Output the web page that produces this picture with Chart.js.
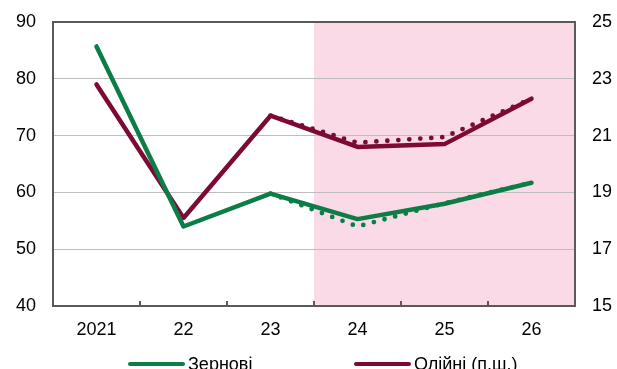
<!DOCTYPE html>
<html>
<head>
<meta charset="utf-8">
<script src="https://cdn.jsdelivr.net/npm/chart.js@4/dist/chart.umd.min.js"></script>
<style>
  html, body { margin: 0; padding: 0; background: #fff; }
  #wrap { position: relative; width: 617px; height: 369px; overflow: hidden; }
  #chart { position: absolute; left: 0; top: 0; }
  .legend { position: absolute; top: 352px; left: 0; width: 617px; height: 24px;
            font-family: "Liberation Sans", Arial, sans-serif; font-size: 18px; color: #000; }
  .item { position: absolute; top: 0; display: flex; align-items: center; height: 24px; }
  .swatch { width: 57px; height: 4px; border-radius: 2px; margin-right: 3px; }
</style>
</head>
<body>
<div id="wrap">
  <canvas id="chart" width="617" height="369"></canvas>
  <div class="legend">
    <div class="item" style="left:128px"><span class="swatch" style="background:#0c7d46"></span><span>Зернові</span></div>
    <div class="item" style="left:354px"><span class="swatch" style="background:#7c0a35"></span><span>Олійні (п.ш.)</span></div>
  </div>
</div>
<script>
// Marketing years
const years = ['2021', '22', '23', '24', '25', '26'];

// Grain crops, left axis
const grain = [85.7, 54.0, 59.8, 55.3, 58.0, 61.7];
// Grain crops, previous forecast (dotted)
const grainPrev = [null, null, 59.8, 54.0, 58.1, 61.7];

// Oil crops, right axis
const oil = [22.8, 18.1, 21.7, 20.6, 20.7, 22.3];
// Oil crops, previous forecast (dotted)
const oilPrev = [null, null, 21.7, 20.75, 20.95, 22.3];

// Axis ticks
const leftTicks = [40, 50, 60, 70, 80, 90];
const rightTicks = [15, 17, 19, 21, 23, 25];

// First forecast year: shaded from here to the right edge
const forecastFrom = '24';

const GREEN = '#0c7d46';
const RED = '#7c0a35';
const FRAME = '#5a5a5a';
const FONT = { family: '"Liberation Sans", Arial, sans-serif', size: 18 };

const shadePlugin = {
  id: 'forecastShade',
  beforeDraw(chart) {
    const { ctx, chartArea: a, scales: { x } } = chart;
    const i = years.indexOf(forecastFrom);
    const left = (x.getPixelForValue(i - 1) + x.getPixelForValue(i)) / 2;
    ctx.save();
    ctx.fillStyle = '#fadae6';
    ctx.fillRect(left, a.top, a.right - left, a.bottom - a.top);
    ctx.restore();
  }
};

const framePlugin = {
  id: 'frame',
  afterDatasetsDraw(chart) {
    const { ctx, chartArea: a, scales: { x } } = chart;
    ctx.save();
    ctx.strokeStyle = FRAME;
    ctx.lineWidth = 2;
    ctx.strokeRect(a.left, a.top, a.right - a.left, a.bottom - a.top);
    // short inward ticks between categories
    ctx.beginPath();
    for (let i = 0; i < years.length - 1; i++) {
      const px = (x.getPixelForValue(i) + x.getPixelForValue(i + 1)) / 2;
      ctx.moveTo(px, a.bottom);
      ctx.lineTo(px, a.bottom - 5);
    }
    ctx.stroke();
    ctx.restore();
  }
};

const dotted = { borderDash: [0, 11], borderCapStyle: 'round', borderWidth: 4.8 };

// vertical axes: fixed width, no extra room reserved for end labels
const fitVertical = w => s => { s.width = w; s.paddingTop = 0; s.paddingBottom = 0; };

new Chart(document.getElementById('chart'), {
  type: 'line',
  data: {
    labels: years,
    datasets: [
      Object.assign({ label: 'Зернові (попередній)', data: grainPrev, yAxisID: 'y', borderColor: GREEN }, dotted),
      Object.assign({ label: 'Олійні (попередній)', data: oilPrev, yAxisID: 'y2', borderColor: RED }, dotted),
      { label: 'Зернові', data: grain, yAxisID: 'y', borderColor: GREEN, borderWidth: 4.5, borderCapStyle: 'round', borderJoinStyle: 'round' },
      { label: 'Олійні (п.ш.)', data: oil, yAxisID: 'y2', borderColor: RED, borderWidth: 4.5, borderCapStyle: 'round', borderJoinStyle: 'round' }
    ]
  },
  options: {
    responsive: false,
    animation: false,
    spanGaps: false,
    elements: { point: { radius: 0, hoverRadius: 0 }, line: { tension: 0 } },
    layout: { padding: { top: 22, left: 0, right: 0, bottom: 0 } },
    plugins: { legend: { display: false }, tooltip: { enabled: false } },
    scales: {
      x: {
        type: 'category',
        offset: true,
        grid: { display: false, drawTicks: false },
        border: { display: false },
        ticks: { color: '#000', font: FONT, padding: 13, maxRotation: 0 },
        afterFit(s) { s.height = 63; s.paddingLeft = 0; s.paddingRight = 0; }
      },
      y: {
        position: 'left',
        min: leftTicks[0], max: leftTicks[leftTicks.length - 1],
        afterBuildTicks(s) { s.ticks = leftTicks.map(v => ({ value: v })); },
        grid: { color: '#bdbdbd', lineWidth: 1, drawTicks: false },
        border: { display: false },
        ticks: { color: '#000', font: FONT, padding: 17 },
        afterFit: fitVertical(53)
      },
      y2: {
        position: 'right',
        min: rightTicks[0], max: rightTicks[rightTicks.length - 1],
        afterBuildTicks(s) { s.ticks = rightTicks.map(v => ({ value: v })); },
        grid: { drawOnChartArea: false, drawTicks: false },
        border: { display: false },
        ticks: { color: '#000', font: FONT, padding: 17 },
        afterFit: fitVertical(42)
      }
    }
  },
  plugins: [shadePlugin, framePlugin]
});
</script>
</body>
</html>
